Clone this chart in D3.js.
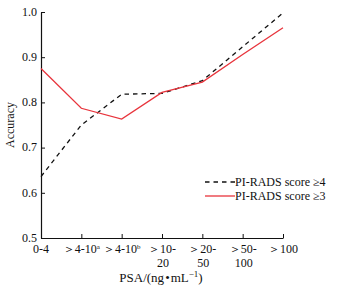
<!DOCTYPE html>
<html><head><meta charset="utf-8">
<script src="https://cdn.jsdelivr.net/npm/d3@7"></script>
<style>body{margin:0;background:#fff}svg{display:block}text{font-family:"Liberation Serif","Times New Roman",serif;fill:#111}</style>
</head><body><svg id="c" width="337" height="288"></svg>
<script>
const categories = ["0-4", ">4-10a", ">4-10b", ">10-20", ">20-50", ">50-100", ">100"];
const tickLines = [["0-4"], ["＞4-10", "a"], ["＞4-10", "b"], ["＞10-", "20"], ["＞20-", "50"], ["＞50-", "100"], ["＞100"]];
const score4 = [0.636, 0.750, 0.818, 0.820, 0.848, 0.923, 0.998];
const score3 = [0.875, 0.787, 0.763, 0.822, 0.845, 0.906, 0.965];
const yTicks = [0.5, 0.6, 0.7, 0.8, 0.9, 1.0];

const svg = d3.select("#c");
const x = d3.scalePoint().domain(categories).range([41, 283]);
const y = d3.scaleLinear().domain([0.5, 1.0]).range([238, 12]);

const xAxis = svg.append("g").attr("transform", "translate(0,238)")
  .call(d3.axisBottom(x).tickSizeInner(-4).tickSizeOuter(0).tickFormat(""));
xAxis.select(".domain").attr("stroke", "#111").attr("stroke-width", 1.2);
xAxis.selectAll(".tick line").attr("stroke", "#111");

const yAxis = svg.append("g").attr("transform", "translate(41,0)")
  .call(d3.axisLeft(y).tickValues(yTicks).tickSizeInner(-4).tickSizeOuter(0).tickFormat(d3.format(".1f")));
yAxis.select(".domain").attr("stroke", "#111").attr("stroke-width", 1.2);
yAxis.selectAll(".tick line").attr("stroke", "#111");
yAxis.selectAll(".tick text").attr("x", -4).attr("dy", "0.28em").style("font-size", "12px").style("font-family", "Liberation Serif").attr("fill", "#222");

// x tick labels
const lab = svg.append("g");
categories.forEach((c, i) => {
  const lines = tickLines[i];
  const t = lab.append("text").attr("x", x(c)).attr("y", 253).attr("text-anchor", "middle").style("font-size", "12px");
  if (lines.length === 2 && (lines[1] === "a" || lines[1] === "b")) {
    t.append("tspan").text(lines[0]);
    t.append("tspan").text(lines[1]).attr("dy", -4).style("font-size", "7px");
  } else {
    t.append("tspan").text(lines[0]);
    if (lines[1]) {
      lab.append("text").attr("x", x(c) + 1).attr("y", 267).attr("text-anchor", "middle").style("font-size", "12px").text(lines[1]);
    }
  }
});

svg.append("text").attr("x", 161).attr("y", 282).attr("text-anchor", "middle").style("font-size", "13px")
  .html('PSA/(ng<tspan dx="1">•</tspan><tspan dx="1">mL</tspan><tspan dy="-5" style="font-size:9px">−1</tspan><tspan dy="5">)</tspan>');

svg.append("text").attr("transform", "translate(14,125) rotate(-90)").attr("text-anchor", "middle").style("font-size", "12px").text("Accuracy");

const line = d3.line().x((d, i) => x(categories[i])).y(d => y(d));
svg.append("path").datum(score4).attr("d", line).attr("fill", "none").attr("stroke", "#111").attr("stroke-width", 1.3).attr("stroke-dasharray", "4.5,4");
svg.append("path").datum(score3).attr("d", line).attr("fill", "none").attr("stroke", "#e8343c").attr("stroke-width", 1.3);

// legend
const leg = svg.append("g");
leg.append("line").attr("x1", 205).attr("x2", 235).attr("y1", 182).attr("y2", 182).attr("stroke", "#111").attr("stroke-width", 1.3).attr("stroke-dasharray", "4.5,4");
leg.append("text").attr("x", 235).attr("y", 186).style("font-size", "12px").text("PI-RADS score ≥4");
leg.append("line").attr("x1", 205).attr("x2", 235).attr("y1", 196).attr("y2", 196).attr("stroke", "#e8343c").attr("stroke-width", 1.3);
leg.append("text").attr("x", 235).attr("y", 200).style("font-size", "12px").text("PI-RADS score ≥3");
</script></body></html>
